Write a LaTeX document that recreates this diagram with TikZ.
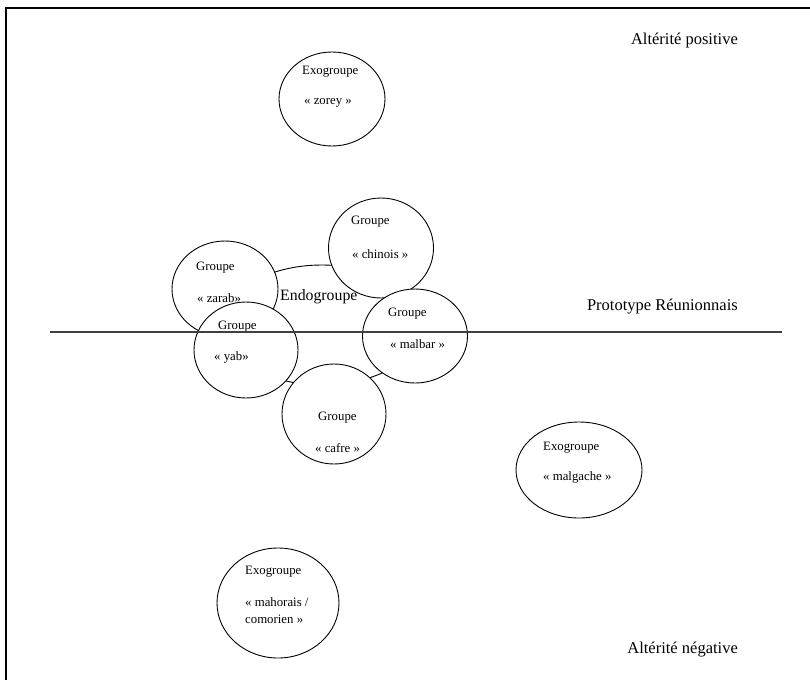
\documentclass[tikz,border=0pt]{standalone}
\usepackage{fontspec}
\setmainfont{Liberation Serif}
\usetikzlibrary{shapes.geometric}
\tikzset{
  grp/.style={ellipse, draw=black, line width=0.9pt, fill=white, inner sep=0pt},
  txt/.style={anchor=west, font=\fontsize{12.8}{14}\selectfont, inner sep=0pt},
  big/.style={font=\fontsize{16.5}{19}\selectfont, inner sep=0pt},
}
\begin{document}
\begin{tikzpicture}[x=1pt,y=-1pt]
\useasboundingbox (0,0) rectangle (810,680);
% frame
\coordinate (ftl) at (6,8);
\coordinate (ftr) at (810,8);
\coordinate (fbl) at (6,680);
\draw[line width=1.3pt] (ftr) -- (ftl) -- (fbl);
% endogroupe ellipse
\node[ellipse, draw=black, line width=0.9pt, minimum width=200pt, minimum height=120pt, inner sep=0pt] (endo) at (322,325) {};
% circles
\node[grp, minimum width=106pt, minimum height=94pt] (zorey) at (332,99) {};
\node[grp, minimum width=105pt, minimum height=100pt] (chinois) at (381,248) {};
\node[grp, minimum width=105pt, minimum height=94pt] (malbar) at (415,336) {};
\node[grp, minimum width=106pt, minimum height=96pt] (zarab) at (225,289) {};
\node[grp, minimum width=104pt, minimum height=96pt] (yab) at (246,350) {};
\node[grp, minimum width=104pt, minimum height=100pt] (cafre) at (334,414) {};
\node[grp, minimum width=126pt, minimum height=96pt] (malgache) at (579,470) {};
\node[grp, minimum width=122pt, minimum height=110pt] (mahorais) at (278,603) {};
% texts
\node[txt] (t1a) at (302,72) {Exogroupe};
\node[txt] (t1b) at (304,103) {« zorey »};
\node[txt] (t2a) at (351,222) {Groupe};
\node[txt] (t2b) at (352,254) {« chinois »};
\node[txt] (t3a) at (196,268) {Groupe};
\node[txt] (t3b) at (197,298) {« zarab»};
\node[font=\fontsize{15.8}{18}\selectfont, inner sep=0pt, anchor=west] (endot) at (280,297) {Endogroupe};
\node[txt] (t4a) at (218,327) {Groupe};
\node[txt] (t4b) at (214,357) {« yab»};
\node[txt] (t5a) at (388,314) {Groupe};
\node[txt] (t5b) at (390,344) {« malbar »};
\node[txt] (t6a) at (318,418) {Groupe};
\node[txt] (t6b) at (315,448) {« cafre »};
\node[txt] (t7a) at (543,448) {Exogroupe};
\node[txt] (t7b) at (543,477) {« malgache »};
\node[txt] (t8a) at (245,572) {Exogroupe};
\node[txt] (t8b) at (245,602) {« mahorais /};
\node[txt] (t8c) at (245,619) {comorien »};
% axis line
\coordinate (la) at (50,332);
\coordinate (lb) at (782,332);
\draw[line width=1.2pt, draw=black!75] (la) -- (lb);
% labels
\node[big, anchor=east] (pos) at (738,41) {Altérité positive};
\node[big, anchor=east] (proto) at (738,307) {Prototype Réunionnais};
\node[big, anchor=east] (neg) at (738,650) {Altérité négative};
\end{tikzpicture}
\end{document}
